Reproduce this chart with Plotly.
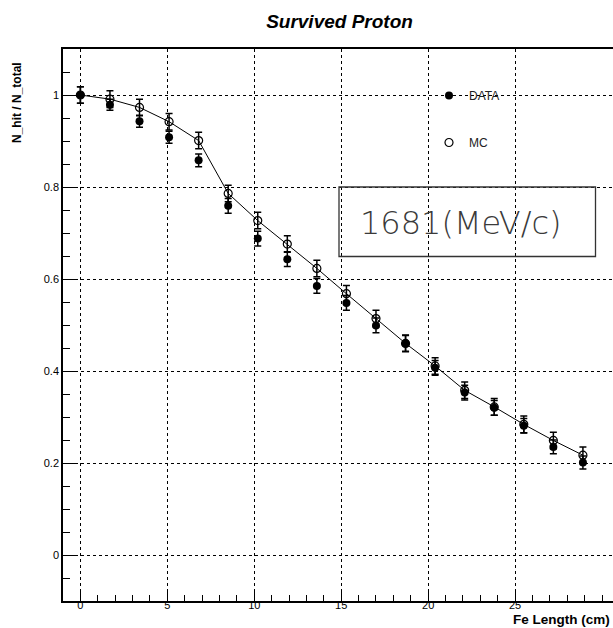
import plotly.graph_objects as go

# ---- data ----
fe_length = [round(1.7 * i, 2) for i in range(18)]
data_vals = [1.000, 0.979, 0.943, 0.908, 0.858, 0.759, 0.688, 0.643, 0.585,
             0.548, 0.499, 0.460, 0.407, 0.353, 0.320, 0.281, 0.235, 0.201]
data_err = [0.018, 0.012, 0.013, 0.013, 0.014, 0.016, 0.016, 0.016, 0.016,
            0.016, 0.016, 0.017, 0.016, 0.016, 0.016, 0.016, 0.015, 0.014]
mc_vals = [1.000, 0.991, 0.973, 0.942, 0.901, 0.786, 0.727, 0.676, 0.623,
           0.568, 0.514, 0.460, 0.411, 0.358, 0.322, 0.284, 0.249, 0.217]
mc_err = [0.018, 0.018, 0.018, 0.018, 0.018, 0.018, 0.018, 0.018, 0.018,
          0.018, 0.018, 0.018, 0.018, 0.018, 0.018, 0.018, 0.018, 0.018]

x_tick_vals = [0, 5, 10, 15, 20, 25]
x_tick_text = ["0", "5", "10", "15", "20", "25"]
y_tick_vals = [0, 0.2, 0.4, 0.6, 0.8, 1.0]
y_tick_text = ["0", "0.2", "0.4", "0.6", "0.8", "1"]

title_text = "Survived Proton"
x_title = "Fe Length (cm)"
y_title = "N_hit / N_total"
box_text = "1681(MeV/c)"

FONT = "Liberation Sans, Arial, Helvetica, sans-serif"

W, H = 613, 628
ML, MT, MB = 63, 49, 27
PW, PH = W - ML, H - MT - MB  # 550 x 552


def px(x_ref):
    return (x_ref - ML) / PW


def py(y_ref):
    return (H - MB - y_ref) / PH


fig = go.Figure()

# MC connecting line
fig.add_trace(go.Scatter(
    x=fe_length, y=mc_vals, mode="lines",
    line=dict(color="black", width=1), showlegend=False, hoverinfo="skip"))

# MC points
fig.add_trace(go.Scatter(
    x=fe_length, y=mc_vals, mode="markers", name="MC",
    marker=dict(symbol="circle-open", size=8, color="black", line=dict(width=1.2)),
    error_y=dict(type="data", array=mc_err, color="black", thickness=1.5, width=3.5),
    legendgroup="mc", legendrank=2))

# DATA points
fig.add_trace(go.Scatter(
    x=fe_length, y=data_vals, mode="markers", name="DATA",
    marker=dict(symbol="circle", size=8, color="black"),
    error_y=dict(type="data", array=data_err, color="black", thickness=1.5, width=3.5),
    legendgroup="data", legendrank=1))

fig.update_layout(
    width=W, height=H,
    margin=dict(l=ML, r=0, t=MT, b=MB, autoexpand=False),
    paper_bgcolor="white", plot_bgcolor="white",
    font=dict(family=FONT, color="black", size=11),
    title=dict(text=title_text, x=339.5 / W, xanchor="center",
               y=1 - 21 / H, yanchor="middle", yref="container",
               font=dict(family=FONT, size=19, weight="bold", style="italic", color="black")),
    legend=dict(x=px(429), y=0.942, xanchor="left", yanchor="top",
                bgcolor="rgba(0,0,0,0)", borderwidth=0,
                font=dict(family=FONT, size=12, color="#222222"),
                tracegroupgap=28, itemclick=False),
    showlegend=True,
)

fig.update_xaxes(
    range=[-1.0, 30.63], showline=True, linecolor="black", linewidth=1.5, mirror=True,
    ticks="inside", ticklen=11, tickcolor="black", tickwidth=1,
    tickvals=x_tick_vals, ticktext=x_tick_text, ticklabelstandoff=-7,
    tickfont=dict(family=FONT, size=11, color="black"),
    showgrid=True, gridcolor="black", griddash="dot", gridwidth=1,
    zeroline=False, automargin=False,
    minor=dict(dtick=1, tick0=0, ticks="inside", ticklen=6, tickcolor="black", showgrid=False),
)
fig.update_yaxes(
    range=[-0.1, 1.1], showline=True, linecolor="black", linewidth=1.5, mirror=False,
    ticks="inside", ticklen=14, tickcolor="black", tickwidth=1,
    tickvals=y_tick_vals, ticktext=y_tick_text,
    tickfont=dict(family=FONT, size=11, color="black"),
    showgrid=True, gridcolor="black", griddash="dot", gridwidth=1,
    zeroline=False, automargin=False,
    minor=dict(dtick=0.05, tick0=0, ticks="inside", ticklen=7, tickcolor="black", showgrid=False),
)

# text box
fig.add_shape(type="rect", xref="paper", yref="paper",
              x0=px(339), x1=px(595.5), y0=py(256.5), y1=py(187),
              line=dict(color="#333333", width=1.3), fillcolor="rgba(0,0,0,0)")
fig.add_annotation(text=box_text, xref="paper", yref="paper",
                   x=px(460.9), y=py(222.5),
                   xanchor="center", yanchor="middle", showarrow=False,
                   font=dict(family="DejaVu Sans, sans-serif",
                             size=32, weight=200, color="#3a3a3a"))

# axis titles
fig.add_annotation(text="<b>%s</b>" % x_title, xref="paper", yref="paper",
                   x=px(612), y=py(619.5),
                   xanchor="right", yanchor="middle", showarrow=False,
                   font=dict(family=FONT, size=13.5, color="black"))
fig.add_annotation(text="<b>%s</b>" % y_title, xref="paper", yref="paper",
                   x=px(17), y=py(103), textangle=-90,
                   xanchor="center", yanchor="middle", showarrow=False,
                   font=dict(family=FONT, size=12, color="black"))

fig.write_html("out.html",
               config={"displayModeBar": False},
               post_script="document.body.style.margin='0px';"
                           "document.body.style.overflow='hidden';")
